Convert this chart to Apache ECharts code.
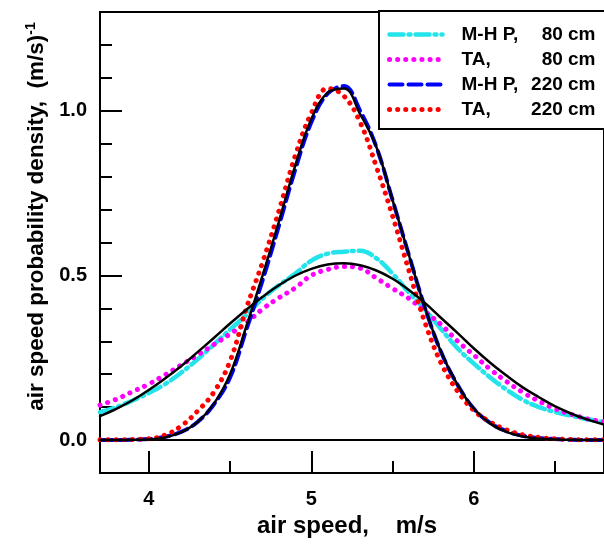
<!DOCTYPE html>
<html>
<head>
<meta charset="utf-8">
<script src="https://cdn.jsdelivr.net/npm/echarts@6/dist/echarts.min.js"></script>
<style>
html,body{margin:0;padding:0;background:#fff;}
#c{width:604px;height:544px;}
</style>
</head>
<body>
<div id="c"></div>
<script>
// ---- data ----
const xs = [3.7,3.8,3.9,4.0,4.1,4.2,4.3,4.4,4.5,4.6,4.7,4.8,4.9,5.0,5.1,5.2,5.3,5.4,5.5,5.6,5.7,5.8,5.9,6.0,6.1,6.2,6.3,6.4,6.5,6.6,6.7,6.8];

const mhp80 = [0.085,0.100,0.120,0.143,0.170,0.205,0.245,0.290,0.336,0.380,0.430,0.470,0.505,0.545,0.566,0.572,0.575,0.552,0.505,0.448,0.395,0.336,0.278,0.232,0.190,0.153,0.122,0.100,0.085,0.074,0.063,0.055];
const ta80 = [0.106,0.124,0.147,0.170,0.198,0.228,0.258,0.290,0.322,0.356,0.398,0.432,0.462,0.500,0.518,0.527,0.522,0.492,0.460,0.430,0.390,0.350,0.300,0.258,0.215,0.178,0.145,0.118,0.095,0.078,0.064,0.055];
const mhp220 = [0.000,0.000,0.001,0.003,0.010,0.025,0.055,0.108,0.190,0.335,0.485,0.650,0.820,0.965,1.052,1.075,1.000,0.890,0.728,0.562,0.400,0.265,0.167,0.095,0.052,0.027,0.013,0.006,0.003,0.001,0.000,0.000];
const ta220 = [0.001,0.001,0.002,0.004,0.015,0.043,0.088,0.145,0.240,0.400,0.540,0.695,0.862,0.993,1.068,1.045,0.965,0.830,0.680,0.515,0.355,0.232,0.148,0.090,0.055,0.031,0.016,0.008,0.004,0.002,0.001,0.001];
const fit80 = [0.073,0.095,0.121,0.152,0.187,0.225,0.267,0.310,0.354,0.396,0.435,0.470,0.499,0.520,0.533,0.537,0.531,0.515,0.490,0.456,0.416,0.370,0.325,0.278,0.235,0.196,0.160,0.130,0.102,0.080,0.062,0.047];
const fit220 = [0.000,0.000,0.001,0.002,0.008,0.024,0.055,0.110,0.200,0.345,0.500,0.663,0.832,0.975,1.055,1.068,0.990,0.890,0.728,0.562,0.400,0.265,0.167,0.095,0.050,0.025,0.011,0.004,0.002,0.001,0.000,0.000];

const legendNames = ['M-H P,   80 cm', 'TA,      80 cm', 'M-H P, 220 cm', 'TA,      220 cm'];
const xMajorTicks = [4, 5, 6];
const xMinorTicks = [4.5, 5.5, 6.5];
const yMajorTicks = [0, 0.5, 1.0];
const yMinorTicks = [0.1, 0.2, 0.3, 0.4, 0.6, 0.7, 0.8, 0.9, 1.1, 1.2];
const xTitle = 'air speed,    m/s';
const yTitleMain = 'air speed probability density,  (m/s)';
const yTitleSup = '-1';

// ---- chart ----
const FONT = '"Liberation Sans", Arial, sans-serif';
const pairs = ys => xs.map((x, i) => [x, ys[i]]);
const chart = echarts.init(document.getElementById('c'), null, {renderer: 'canvas'});

const styles = [
  {color: '#22e4ea', width: 4.5, type: [14, 5, 2, 5]},
  {color: '#ff00ff', width: 5, type: [0.1, 8]},
  {color: '#0000ff', width: 4, type: [13, 6]},
  {color: '#ff0000', width: 5, type: [0.1, 8]}
];

const baseLine = (name, data, st, z) => ({
  name, type: 'line', data: pairs(data), smooth: 0.4, symbol: 'none', z,
  xAxisIndex: 0, yAxisIndex: 0,
  lineStyle: {color: st.color, width: st.width, type: st.type, cap: 'round'},
  itemStyle: {color: st.color}
});

const black = {color: '#000', width: 2.5, type: 'solid'};

const option = {
  backgroundColor: '#fff',
  animation: false,
  grid: {left: 100, top: 12, width: 511.5, height: 461, show: true, borderColor: '#000', borderWidth: 2, containLabel: false},
  xAxis: [
    {
      type: 'value', min: 3.7, max: 6.8, position: 'bottom',
      name: xTitle, nameLocation: 'middle', nameGap: 39,
      nameTextStyle: {fontFamily: FONT, fontWeight: 'bold', fontSize: 24, color: '#000', padding: [0, 10, 0, 0]},
      axisLine: {show: true, onZero: false, lineStyle: {color: '#000', width: 2}},
      axisTick: {show: true, inside: true, length: 22, lineStyle: {color: '#000', width: 2}, customValues: xMajorTicks},
      axisLabel: {show: true, margin: 16, fontFamily: FONT, fontWeight: 'bold', fontSize: 20, color: '#000', customValues: xMajorTicks, formatter: v => String(Math.round(v))},
      splitLine: {show: false}
    },
    {
      type: 'value', min: 3.7, max: 6.8, position: 'bottom',
      axisLine: {show: false, onZero: false},
      axisTick: {show: true, inside: true, length: 12, lineStyle: {color: '#000', width: 2}, customValues: xMinorTicks},
      axisLabel: {show: false},
      splitLine: {show: false}
    }
  ],
  yAxis: [
    {
      type: 'value', min: -0.1, max: 1.3, position: 'left',
      name: '{t|' + yTitleMain + '}{s|' + yTitleSup + '}',
      nameLocation: 'middle', nameGap: 50, nameRotate: 90,
      nameTextStyle: {
        color: '#000', padding: [0, 0, 0, 52],
        rich: {
          t: {fontFamily: FONT, fontWeight: 'bold', fontSize: 22.5, color: '#000', lineHeight: 26},
          s: {fontFamily: FONT, fontWeight: 'bold', fontSize: 14, color: '#000', lineHeight: 14, verticalAlign: 'top'}
        }
      },
      axisLine: {show: true, onZero: false, lineStyle: {color: '#000', width: 2}},
      axisTick: {show: true, inside: true, length: 22, lineStyle: {color: '#000', width: 2}, customValues: yMajorTicks},
      axisLabel: {show: true, margin: 13, fontFamily: FONT, fontWeight: 'bold', fontSize: 20, color: '#000', customValues: yMajorTicks, formatter: v => v.toFixed(1)},
      splitLine: {show: false}
    },
    {
      type: 'value', min: -0.1, max: 1.3, position: 'left',
      axisLine: {show: false, onZero: false},
      axisTick: {show: true, inside: true, length: 12, lineStyle: {color: '#000', width: 2}, customValues: yMinorTicks},
      axisLabel: {show: false},
      splitLine: {show: false}
    }
  ],
  legend: {
    data: legendNames.map((n, i) => ({
      name: n,
      itemStyle: {opacity: 0},
      lineStyle: {color: styles[i].color, width: styles[i].width, type: styles[i].type, cap: 'round', opacity: 1}
    })),
    orient: 'vertical', left: 379, top: 11,
    padding: [14, 10, 10, 8],
    itemWidth: 53, itemHeight: 14, itemGap: 6,
    borderColor: '#000', borderWidth: 2, backgroundColor: '#fff',
    selectedMode: false,
    itemStyle: {opacity: 0},
    lineStyle: {width: 'inherit', opacity: 1},
    formatter: name => {
      const k = name.indexOf(',');
      return '{a|' + name.slice(0, k + 1) + '}{b|' + name.slice(k + 1).trim() + '}';
    },
    textStyle: {
      color: '#000',
      rich: {
        a: {fontFamily: FONT, fontWeight: 'bold', fontSize: 19, lineHeight: 19, width: 60, padding: [0, 0, 0, 14], color: '#000'},
        b: {fontFamily: FONT, fontWeight: 'bold', fontSize: 19, lineHeight: 19, width: 74, align: 'right', color: '#000'}
      }
    }
  },
  series: [
    baseLine(legendNames[0], mhp80, styles[0], 2),
    baseLine(legendNames[1], ta80, styles[1], 3),
    baseLine(legendNames[2], mhp220, styles[2], 4),
    baseLine(legendNames[3], ta220, styles[3], 5),
    Object.assign(baseLine('fit 80 cm', fit80, black, 6), {
      markLine: {silent: true, symbol: 'none', label: {show: false}, lineStyle: {color: '#000', width: 2, type: 'solid'}, data: [{yAxis: 0}]}
    }),
    baseLine('fit 220 cm', fit220, black, 7)
  ]
};
chart.setOption(option);
</script>
</body>
</html>
